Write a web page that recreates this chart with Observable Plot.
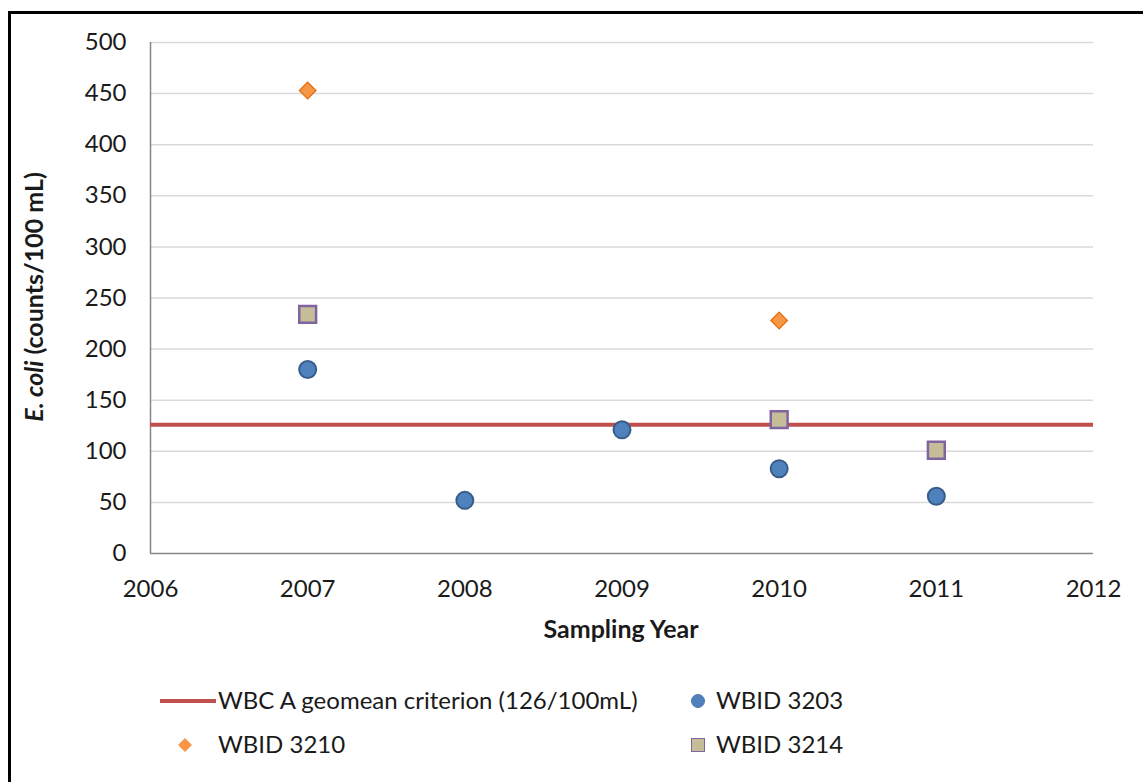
<!DOCTYPE html>
<html>
<head>
<meta charset="utf-8">
<script src="https://cdn.jsdelivr.net/npm/d3@7"></script>
<script src="https://cdn.jsdelivr.net/npm/@observablehq/plot@0.6"></script>
<style>
  body { margin: 0; background: #fff; font-family: Lato, "Open Sans", sans-serif; overflow: hidden; }
  #frame { position: absolute; left: 8px; top: 11px; width: 1300px; height: 900px; border: 3px solid #000; box-sizing: border-box; }
  #chart { position: absolute; left: 0; top: 0; }
  .leg { position: absolute; font-size: 24px; color: #1a1a1a; white-space: nowrap; line-height: 1; }
</style>
</head>
<body>
<div id="frame"></div>
<div id="chart"></div>
<div id="legend"></div>
<script>
const years = [2007, 2008, 2009, 2010, 2011];
const wbid3203 = [180, 52, 121, 83, 56];
const wbid3210Years = [2007, 2010];
const wbid3210 = [453, 228];
const wbid3214Years = [2007, 2010, 2011];
const wbid3214 = [234, 131, 101];
const criterion = 126;
const xTicks = [2006, 2007, 2008, 2009, 2010, 2011, 2012];
const yTicks = [0, 50, 100, 150, 200, 250, 300, 350, 400, 450, 500];

const d3203 = years.map((y, i) => ({year: y, value: wbid3203[i]}));
const d3210 = wbid3210Years.map((y, i) => ({year: y, value: wbid3210[i]}));
const d3214 = wbid3214Years.map((y, i) => ({year: y, value: wbid3214[i]}));

const textColor = "#1a1a1a";
const plot = Plot.plot({
  width: 1143,
  height: 660,
  marginLeft: 150,
  marginRight: 50,
  marginTop: 42,
  marginBottom: 107,
  style: {fontFamily: "Lato, 'Open Sans', sans-serif", fontSize: "24px", color: textColor, background: "transparent", overflow: "visible"},
  x: {domain: [2006, 2012], ticks: xTicks, tickFormat: d => String(d), label: null},
  y: {domain: [0, 500], ticks: yTicks, label: null},
  marks: [
    Plot.gridY(yTicks.filter(d => d > 0), {stroke: "#d9d9d9", strokeOpacity: 1, strokeWidth: 1.5}),
    Plot.axisY({ticks: yTicks, tickSize: 0, tickPadding: 24, fontSize: 24}),
    Plot.axisX({ticks: xTicks, tickSize: 0, tickPadding: 26, fontSize: 24, tickFormat: d => String(d)}),
    Plot.ruleX([2006], {stroke: "#868686", strokeWidth: 1.5}),
    Plot.ruleY([0], {stroke: "#868686", strokeWidth: 1.5}),
    Plot.ruleY([criterion], {stroke: "#c0504d", strokeWidth: 4}),
    Plot.dot(d3203, {x: "year", y: "value", r: 8.5, fill: "#4f81bd", stroke: "#385d8a", strokeWidth: 2}),
    Plot.dot(d3210, {x: "year", y: "value", symbol: "diamond2", r: 7.5, fill: "#f79646", stroke: "#e46c0a", strokeWidth: 1.2}),
    Plot.dot(d3214, {x: "year", y: "value", symbol: "square", r: 9.5, fill: "#c4bd97", stroke: "#8064a2", strokeWidth: 2.5})
  ]
});

const svg = d3.select(plot);
svg.append("text")
  .attr("transform", "translate(37,297) rotate(-90)")
  .attr("text-anchor", "middle")
  .attr("dominant-baseline", "middle")
  .attr("font-size", 25)
  .attr("font-weight", "bold")
  .attr("fill", textColor)
  .call(t => {
    t.append("tspan").attr("font-style", "italic").text("E. coli");
    t.append("tspan").text(" (counts/100 mL)");
  });
svg.append("text")
  .attr("x", 621)
  .attr("y", 632)
  .attr("text-anchor", "middle")
  .attr("dominant-baseline", "middle")
  .attr("font-size", 25)
  .attr("font-weight", "bold")
  .attr("fill", textColor)
  .text("Sampling Year");

document.getElementById("chart").appendChild(plot);

// Legend
const legendItems = [
  {label: "WBC A geomean criterion (126/100mL)", type: "line", x: 160, y: 701, tx: 218},
  {label: "WBID 3203", type: "circle", x: 698, y: 701, tx: 716},
  {label: "WBID 3210", type: "diamond", x: 185, y: 745, tx: 218},
  {label: "WBID 3214", type: "square", x: 698, y: 745, tx: 716}
];
const leg = document.getElementById("legend");
for (const it of legendItems) {
  const sym = document.createElementNS("http://www.w3.org/2000/svg", "svg");
  sym.setAttribute("width", 70); sym.setAttribute("height", 30);
  sym.style.position = "absolute";
  let inner = "";
  if (it.type === "line") {
    sym.style.left = it.x + "px"; sym.style.top = (it.y - 15) + "px";
    inner = `<line x1="0" x2="56" y1="15" y2="15" stroke="#c0504d" stroke-width="4"/>`;
  } else if (it.type === "circle") {
    sym.style.left = (it.x - 15) + "px"; sym.style.top = (it.y - 15) + "px";
    inner = `<circle cx="15" cy="15" r="6.5" fill="#4f81bd" stroke="#4a7ab4" stroke-width="1"/>`;
  } else if (it.type === "diamond") {
    sym.style.left = (it.x - 15) + "px"; sym.style.top = (it.y - 15) + "px";
    inner = `<path d="M15,8 L22,15 L15,22 L8,15 Z" fill="#f79646"/>`;
  } else {
    sym.style.left = (it.x - 15) + "px"; sym.style.top = (it.y - 15) + "px";
    inner = `<rect x="8.5" y="8.5" width="13" height="13" fill="#c4bd97" stroke="#8064a2" stroke-width="1"/>`;
  }
  sym.innerHTML = inner;
  leg.appendChild(sym);
  const d = document.createElement("div");
  d.className = "leg";
  d.style.left = it.tx + "px";
  d.style.top = (it.y - 13) + "px";
  d.textContent = it.label;
  leg.appendChild(d);
}
</script>
</body>
</html>
